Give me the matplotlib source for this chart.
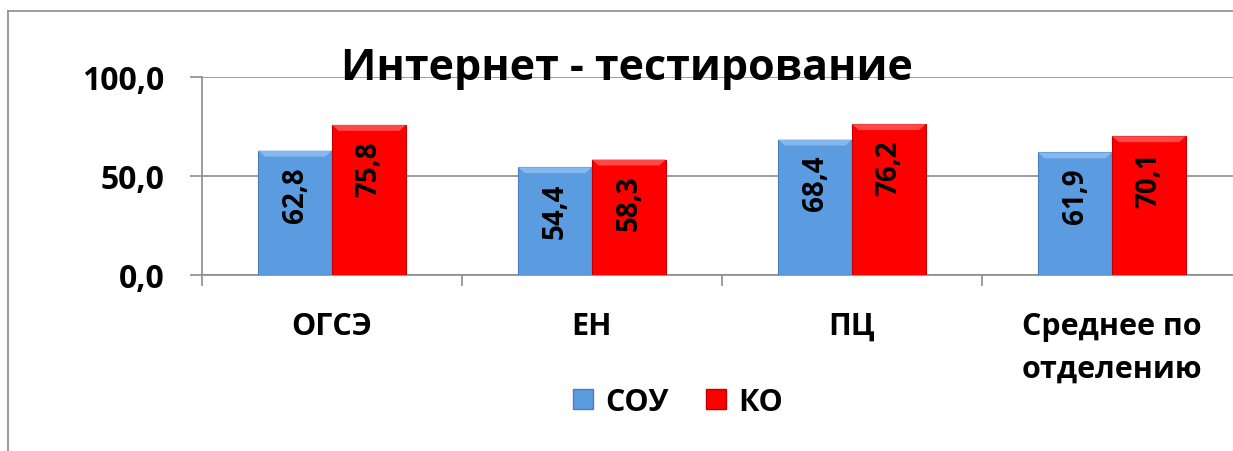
import matplotlib
matplotlib.use("Agg")
import matplotlib.pyplot as plt
import numpy as np
from matplotlib.lines import Line2D
from matplotlib.patches import Patch, Polygon

categories = ["ОГСЭ", "ЕН", "ПЦ", "Среднее по\nотделению"]
series_names = ["СОУ", "КО"]
sou = [62.8, 54.4, 68.4, 61.9]
ko = [75.8, 58.3, 76.2, 70.1]
yticks = [0, 50, 100]
ytick_labels = ["0,0", "50,0", "100,0"]
title = "Интернет - тестирование"

plt.rcParams['font.family'] = ['Open Sans', 'DejaVu Sans']
W, H = 1233, 452
fig = plt.figure(figsize=(W/100, H/100), dpi=100)
ax = fig.add_axes([202/W, (H-276)/H, (1242-202)/W, (276-78)/H])

x = np.arange(len(categories))
bw = 0.284
blue = "#5B9BDF"
red = "#FF0000"
b1 = ax.bar(x - bw/2, sou, bw, color=blue, edgecolor="#4A7FBF", linewidth=0.8, zorder=3)
b2 = ax.bar(x + bw/2, ko, bw, color=red, edgecolor="#C00000", linewidth=0.8, zorder=3)

# bevel highlight on top of each bar
for bars, light in ((b1, "#84B8EE"), (b2, "#FF4848")):
    for r in bars:
        x0, w, h = r.get_x(), r.get_width(), r.get_height()
        dx, dy = w * 0.09, 3.0
        ax.add_patch(Polygon([(x0, h), (x0 + w, h), (x0 + w - dx, h - dy), (x0 + dx, h - dy)],
                             closed=True, facecolor=light, edgecolor="none", zorder=3.5))

for bars, vals in ((b1, sou), (b2, ko)):
    for r, v in zip(bars, vals):
        ax.annotate(f"{v:.1f}".replace(".", ","), (r.get_x() + r.get_width()/2, v),
                    xytext=(0, -11), textcoords="offset points",
                    rotation=90, ha="center", va="top", fontsize=20,
                    fontweight="bold", color="black", zorder=4)

ax.set_xlim(-0.5, len(categories) - 0.5)
ax.set_ylim(0, 100)
ax.set_yticks(yticks)
ax.set_yticklabels(ytick_labels, fontsize=23, fontweight="bold")
ax.yaxis.grid(True, color="#8C8C8C", linewidth=1.2, zorder=0)
ax.set_axisbelow(True)
ax.tick_params(axis="y", length=9, color="#8C8C8C", width=1.2, pad=18)

ax.set_xticks(x)
ax.set_xticklabels([])
ax.tick_params(axis="x", length=0)
ax.set_xticks(np.arange(len(categories) + 1) - 0.5, minor=True)
ax.tick_params(axis="x", which="minor", length=8, color="#8C8C8C", width=1.2)
xt = ax.get_xaxis_transform()
for xi, lab in zip(x, categories):
    ax.text(xi, 0, lab, transform=xt, ha="center", va="top", fontsize=22,
            fontweight="bold", linespacing=1.55, multialignment="center")
# shift labels down with an offset
import matplotlib.transforms as mtrans
off = mtrans.ScaledTranslation(0, -36/100, fig.dpi_scale_trans)
for t in ax.texts[-len(categories):]:
    t.set_transform(xt + off)

for s in ("top", "right"):
    ax.spines[s].set_visible(False)
ax.spines["left"].set_color("#8C8C8C")
ax.spines["left"].set_linewidth(1.2)
ax.spines["bottom"].set_color("#8C8C8C")
ax.spines["bottom"].set_linewidth(1.2)

fig.text(627/W, (H-68)/H, title, ha="center", va="center", fontsize=31, fontweight="bold")

handles = [Patch(facecolor=blue, edgecolor="#4A7FBF"), Patch(facecolor=red, edgecolor="#C00000")]
fig.legend(handles, series_names, loc="center", bbox_to_anchor=(678/W, (H-403)/H),
           ncol=2, frameon=False, prop={"size": 22, "weight": "bold"},
           handlelength=0.65, handleheight=0.65, handletextpad=0.4, columnspacing=1.2)

fig.add_artist(Line2D([8/W, 8/W], [0, (H-12)/H], color="#8C8C8C", linewidth=1.2, transform=fig.transFigure))
fig.add_artist(Line2D([8/W, 1], [(H-12)/H, (H-12)/H], color="#8C8C8C", linewidth=1.2, transform=fig.transFigure))

fig.savefig("out.png", dpi=100)
